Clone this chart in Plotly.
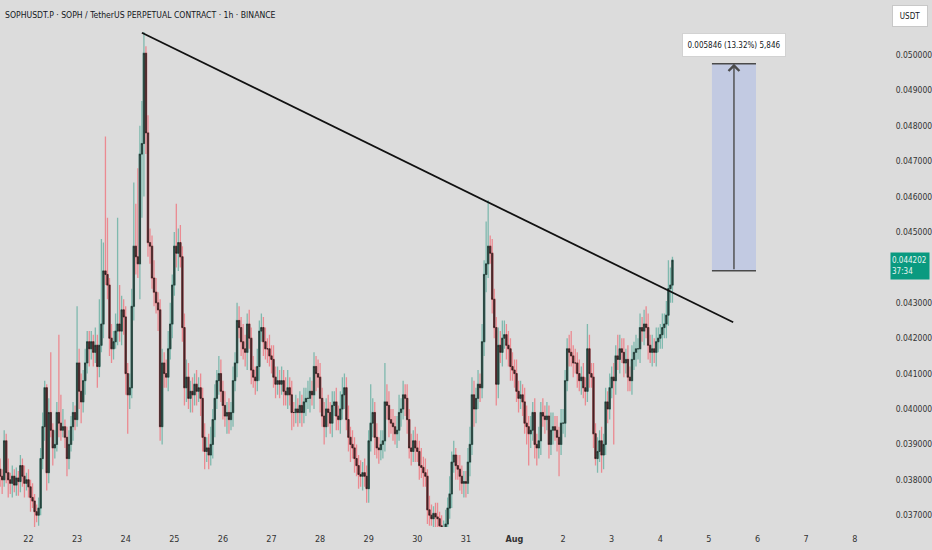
import pandas as pd
import plotly.graph_objects as go

# hourly candles, SOPHUSDT.P 1h, closes in 1e-6 USDT (Jul 21 10:00 -> Aug 4 06:00)
first_open = 38300
closes = [
    # Jul 21 (from 10:00)
    38100, 38000, 39100, 38200, 38000, 37900, 38100, 37850, 38050, 37950, 38400, 38100, 37900, 38000,
    # Jul 22
    37800, 37500, 37400, 37100, 37000, 37200, 38600, 39500, 40600, 38200, 39900, 39400,
    38900, 39000, 39900, 39600, 39400, 39500, 39200, 38600, 39000, 39500, 39900, 39700,
    # Jul 23
    41300, 40500, 40200, 40800, 41300, 41900, 41700, 41900, 41600, 41800, 41200, 41800,
    42400, 43900, 43800, 43500, 42000, 41700, 41900, 42200, 42400, 42200, 42800, 42600,
    # Jul 24
    41000, 40400, 40600, 42900, 44600, 44300, 44100, 47200, 47500, 50050, 47800, 44700,
    44600, 43700, 43300, 43000, 42800, 39500, 41300, 41000, 40900, 41700, 42400, 43500,
    # Jul 25
    44600, 44400, 44700, 44300, 42300, 40600, 40900, 40300, 40500, 40400, 40700, 40500,
    40600, 40300, 39200, 38800, 38900, 38700, 39000, 39700, 40300, 40800, 41000, 40500,
    # Jul 26
    40100, 39800, 39900, 39700, 39900, 40800, 41300, 42500, 42300, 41900, 41700, 41600,
    42400, 42000, 41100, 40900, 40800, 41200, 42200, 42300, 41900, 41700, 41700, 41500,
    # Jul 27
    41400, 40900, 40700, 40800, 40700, 40800, 40500, 40400, 40600, 40400, 39900, 39900,
    40000, 39900, 40100, 39900, 40200, 40300, 40300, 40500, 40400, 41200, 41000, 40900,
    # Jul 28
    40300, 39800, 39500, 40000, 39900, 39600, 40100, 40200, 39800, 39700, 40000, 40400,
    40600, 39700, 39200, 39000, 38900, 38600, 38400, 38150, 38100, 38200, 38100, 37750,
    # Jul 29
    39100, 39600, 39900, 39200, 38900, 38850, 39000, 39100, 40200, 40100, 39700, 39600,
    39500, 39300, 39400, 39900, 40000, 40400, 40300, 39700, 38900, 38800, 39100, 38900,
    # Jul 30
    38800, 38400, 38350, 38200, 38100, 37150, 37000, 36900, 37050, 36950, 36900, 36700,
    36600, 36650, 36750, 37200, 37600, 38500, 38700, 38400, 38300, 38100, 37900, 37950,
    # Jul 31
    37900, 38500, 39000, 40400, 40000, 40300, 40700, 40600, 41900, 43800, 44100, 44600,
    44400, 43100, 42300, 40700, 41800, 41600, 42000, 42100, 41800, 41700, 41200, 41100,
    # Aug 1
    41000, 40500, 40300, 40400, 40200, 39600, 39500, 39300, 39400, 39900, 39000, 38900,
    39100, 39900, 39800, 39700, 39800, 39000, 39400, 39500, 39400, 39200, 39000, 39600,
    # Aug 2
    39600, 40800, 41700, 41600, 41500, 41300, 41300, 41000, 40800, 40900, 40600, 40500,
    41700, 41000, 40900, 39300, 38600, 38800, 39100, 38700, 39000, 40200, 40000, 40600,
    # Aug 3
    40900, 40800, 41500, 41400, 41700, 41600, 41300, 41400, 40900, 40800, 41400, 41600,
    41700, 41700, 42300, 42200, 42400, 42300, 41800, 41600, 41700, 41600, 41900, 42000,
    # Aug 4
    42100, 42300, 42400, 42650, 43400, 43500, 44202,
]

# wick lengths above / below the body, in 1e-4 USDT
wick_up = [
    3, 2, 3, 2, 4, 2, 3, 2, 3, 2, 3, 2, 3, 2,
    3, 2, 4, 2, 2, 3, 3, 4, 2, 1, 4, 17, 2, 4, 3, 22, 8, 5, 2, 3, 4, 3, 3, 2,
    16, 4, 5, 3, 4, 3, 3, 3, 2, 5, 3, 13, 24, 8, 38, 16, 2, 4, 3, 5, 30, 11, 4, 3,
    3, 3, 4, 5, 18, 12, 25, 8, 12, 6, 2, 5, 4, 3, 5, 4, 3, 3, 4, 3, 4, 5, 6, 3,
    4, 12, 4, 5, 3, 4, 5, 4, 3, 4, 3, 4, 3, 4, 3, 4, 3, 4, 5, 3, 4, 3, 5, 4,
    3, 4, 3, 4, 3, 4, 3, 5, 4, 3, 5, 4, 3, 4, 3, 4, 3, 5, 3, 4, 3, 4, 3, 4,
    3, 4, 3, 4, 3, 4, 3, 4, 5, 3, 4, 3, 4, 3, 4, 3, 4, 3, 5, 4, 3, 4, 3, 4,
    4, 3, 4, 3, 4, 3, 4, 3, 4, 3, 5, 5, 4, 3, 4, 3, 4, 3, 4, 3, 4, 3, 4, 3,
    3, 11, 4, 3, 4, 3, 4, 3, 11, 5, 4, 3, 4, 3, 4, 5, 3, 4, 3, 4, 3, 4, 3, 4,
    4, 3, 5, 3, 4, 2, 4, 3, 2, 3, 4, 2, 3, 2, 4, 3, 5, 3, 4, 2, 3, 4, 3, 3,
    3, 4, 5, 5, 4, 3, 4, 3, 5, 4, 12, 13, 3, 4, 3, 3, 5, 4, 5, 4, 3, 4, 3, 4,
    3, 4, 3, 4, 3, 4, 5, 3, 4, 3, 4, 3, 4, 3, 4, 3, 4, 3, 5, 4, 3, 4, 3, 4,
    4, 3, 3, 4, 6, 3, 4, 3, 4, 3, 4, 3, 7, 4, 3, 4, 3, 4, 3, 4, 3, 4, 3, 4,
    3, 4, 3, 6, 4, 3, 4, 3, 4, 3, 4, 3, 4, 3, 4, 3, 4, 5, 4, 3, 4, 3, 4, 3,
    3, 4, 3, 4, 8, 5, 1,
]
wick_dn = [
    3, 4, 2, 3, 5, 3, 4, 2, 3, 4, 3, 3, 4, 2,
    3, 4, 2, 5, 2, 3, 2, 3, 4, 5, 3, 2, 5, 3, 2, 4, 3, 2, 3, 5, 3, 2, 4, 3,
    2, 5, 6, 3, 4, 3, 5, 3, 4, 3, 6, 3, 2, 4, 3, 4, 5, 4, 3, 2, 4, 3, 4, 5,
    6, 11, 4, 3, 4, 5, 4, 10, 18, 15, 6, 4, 5, 3, 4, 3, 6, 4, 5, 4, 3, 4, 3, 4,
    3, 4, 5, 3, 4, 5, 4, 3, 4, 5, 3, 4, 3, 5, 4, 5, 3, 4, 3, 4, 5, 3, 4, 3,
    4, 3, 5, 4, 3, 4, 3, 4, 3, 4, 3, 4, 5, 3, 4, 3, 4, 3, 4, 3, 4, 3, 4, 3,
    4, 3, 4, 3, 4, 3, 4, 3, 4, 3, 5, 4, 3, 4, 3, 4, 3, 4, 3, 4, 3, 4, 5, 3,
    4, 3, 5, 3, 4, 3, 4, 3, 4, 3, 4, 3, 4, 3, 4, 5, 3, 4, 3, 4, 3, 4, 3, 4,
    4, 3, 4, 5, 3, 4, 3, 4, 3, 4, 5, 3, 4, 3, 4, 3, 4, 3, 5, 4, 3, 4, 3, 4,
    3, 4, 3, 4, 3, 4, 3, 2, 3, 4, 3, 2, 3, 2, 3, 4, 3, 4, 3, 4, 3, 4, 3, 4,
    4, 3, 4, 3, 5, 4, 3, 4, 3, 4, 5, 4, 3, 4, 3, 6, 4, 3, 4, 3, 4, 5, 4, 3,
    4, 3, 4, 3, 4, 3, 5, 9, 4, 3, 4, 5, 3, 4, 3, 4, 3, 4, 3, 4, 3, 4, 9, 3,
    3, 4, 3, 4, 3, 4, 3, 4, 3, 4, 3, 4, 3, 4, 3, 4, 2, 4, 3, 5, 4, 3, 4, 3,
    3, 18, 4, 3, 4, 3, 4, 3, 4, 3, 4, 3, 4, 3, 4, 3, 4, 3, 4, 3, 4, 3, 4, 3,
    3, 4, 3, 4, 3, 4, 5,
]

day_ticks = ["2025-07-%02d" % d for d in range(22, 32)] + ["2025-08-%02d" % d for d in range(1, 9)]
day_labels = [str(d) for d in range(22, 32)] + ["<b>Aug</b>"] + [str(d) for d in range(2, 9)]
price_ticks = [0.037, 0.038, 0.039, 0.040, 0.041, 0.042, 0.043, 0.045, 0.046, 0.047, 0.048, 0.049, 0.050]

# drawings
trend_times = ["2025-07-24 08:00", "2025-08-05 12:00"]
trend_prices = [0.05063, 0.04245]
measure_times = ["2025-08-05 01:30", "2025-08-05 23:15"]
measure_prices = [0.043904, 0.04975]
last_price = 0.044202

times = pd.date_range("2025-07-21 10:00", periods=len(closes), freq="h")
df = pd.DataFrame({"close": [c / 1e6 for c in closes]}, index=times)
df["open"] = df["close"].shift(1).fillna(first_open / 1e6)
df["top"] = df[["open", "close"]].max(axis=1)
df["bot"] = df[["open", "close"]].min(axis=1)
df["high"] = df["top"] + pd.Series(wick_up, index=times) / 1e4
df["low"] = df["bot"] - pd.Series(wick_dn, index=times) / 1e4

base = pd.Timestamp("2025-07-22")
x_range = [base - pd.Timedelta(hours=14.07), base + pd.Timedelta(hours=422.96)]

font = "Liberation Sans Narrow, DejaVu Sans Condensed, Arial Narrow, sans-serif"
bg = "#dcdcdc"

fig = go.Figure()

# wicks (faded colours)
fig.add_trace(go.Candlestick(x=df.index, open=df["open"], high=df["high"],
                             low=df["low"], close=df["close"],
                             increasing=dict(line=dict(color="#7fb9ae", width=1.3), fillcolor="#7fb9ae"),
                             decreasing=dict(line=dict(color="#eb8a91", width=1.3), fillcolor="#eb8a91"),
                             hoverinfo="skip"))

# dark bodies on top
fig.add_trace(go.Candlestick(x=df.index, open=df["open"], high=df["top"],
                             low=df["bot"], close=df["close"],
                             increasing=dict(line=dict(color="#1d2b28", width=0.7), fillcolor="#2c5a50"),
                             decreasing=dict(line=dict(color="#2b1c1d", width=0.7), fillcolor="#5c2a2e"),
                             hoverinfo="skip"))

# trend line
fig.add_trace(go.Scatter(x=trend_times, y=trend_prices, mode="lines",
                         line=dict(color="#111111", width=1.8), hoverinfo="skip"))

# measure box
fig.add_shape(type="rect", x0=measure_times[0], x1=measure_times[1],
              y0=measure_prices[0], y1=measure_prices[1],
              fillcolor="#c2cae2", line_width=0, layer="below")
for p in measure_prices:
    fig.add_shape(type="line", x0=measure_times[0], x1=measure_times[1], y0=p, y1=p,
                  line=dict(color="#4a4a4a", width=1.5))
mid = pd.Timestamp(measure_times[0]) + (pd.Timestamp(measure_times[1]) - pd.Timestamp(measure_times[0])) / 2
fig.add_annotation(x=mid, y=measure_prices[1], ax=mid, ay=measure_prices[0],
                   xref="x", yref="y", axref="x", ayref="y", text="",
                   showarrow=True, arrowhead=4, arrowsize=1.5, arrowwidth=1.4,
                   arrowcolor="#4a4a4a")
diff = measure_prices[1] - measure_prices[0]
fig.add_annotation(x=mid, y=0.05028, xref="x", yref="y", showarrow=False,
                   xanchor="center", yanchor="middle",
                   text="%.6f (%.2f%%) %s" % (diff, diff / measure_prices[0] * 100, f"{round(diff * 1e6):,}"),
                   font=dict(family=font, size=8, color="#131722"),
                   bgcolor="white", bordercolor="#d2d2d2", borderwidth=1, borderpad=1,
                   width=100, height=20)

# header
fig.add_annotation(x=0.003, y=0.972, xref="paper", yref="paper", xanchor="left", yanchor="middle",
                   showarrow=False,
                   text="SOPHUSDT.P · SOPH / TetherUS PERPETUAL CONTRACT · 1h · BINANCE",
                   font=dict(family=font, size=8.6, color="#131722"))

# USDT box
fig.add_annotation(x=1.028, y=0.9696, xref="paper", yref="paper", showarrow=False,
                   xanchor="center", yanchor="middle",
                   text="USDT", font=dict(family=font, size=8, color="#131722"),
                   bgcolor="white", bordercolor="#c8c8c8", borderwidth=1,
                   width=32, height=18)

# last price label
fig.add_annotation(x=1.028, y=last_price, xref="paper", yref="y", yanchor="top", yshift=8,
                   xanchor="center", showarrow=False, align="left",
                   text="%.6f<br>37:34" % last_price,
                   font=dict(family=font, size=8, color="#e8f5f2"),
                   bgcolor="#0a9a80", width=36, height=24)

fig.update_layout(
    width=932, height=550,
    margin=dict(l=0, r=47, t=0, b=23, autoexpand=False),
    paper_bgcolor=bg, plot_bgcolor=bg,
    showlegend=False,
    boxgap=0.1,
    xaxis=dict(type="date", range=x_range, rangeslider_visible=False,
               tickvals=day_ticks, ticktext=day_labels, automargin=False,
               showgrid=False, zeroline=False, showline=False,
               ticks="outside", ticklen=3, tickcolor=bg,
               tickfont=dict(family=font, size=9, color="#333333")),
    yaxis=dict(side="right", range=[0.036666, 0.051554], automargin=False,
               tickvals=price_ticks, ticktext=["%.6f" % v for v in price_ticks],
               showgrid=False, zeroline=False, showline=False,
               ticks="outside", ticklen=8, tickcolor=bg,
               tickfont=dict(family=font, size=8.5, color="#333333")),
)

fig.write_html("out.html", config={"displayModeBar": False},
               post_script="document.body.style.margin='0';document.body.style.background='%s';" % bg)
